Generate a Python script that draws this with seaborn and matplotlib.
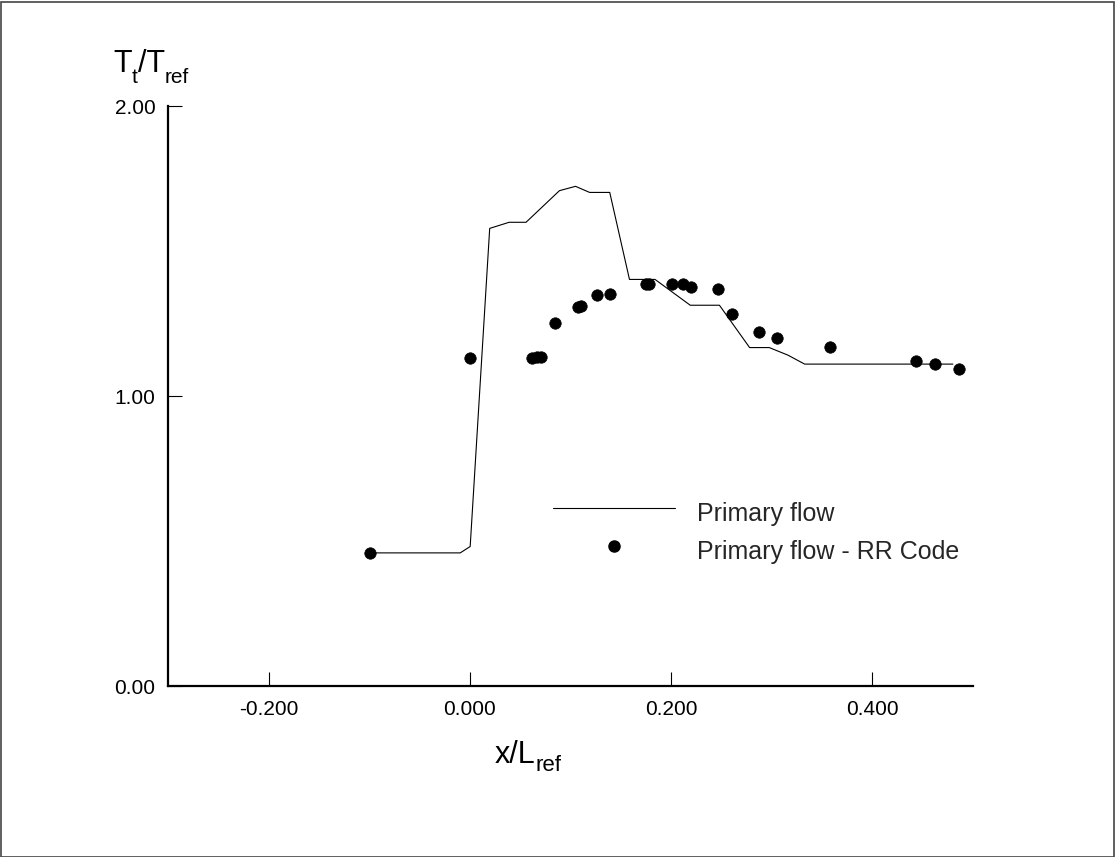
import numpy as np
import pandas as pd
import matplotlib
matplotlib.use("Agg")
import matplotlib.pyplot as plt
import seaborn as sns
from matplotlib.lines import Line2D
from matplotlib.patches import Rectangle

# ---- data ----
line_x = [-0.0995, -0.0096, 0.0003, 0.0197, 0.039, 0.0558, 0.089, 0.105, 0.119, 0.139,
          0.1586, 0.184, 0.219, 0.248, 0.278, 0.2975, 0.316, 0.3327, 0.480]
line_y = [0.459, 0.459, 0.481, 1.578, 1.599, 1.599, 1.708, 1.723, 1.702, 1.702,
          1.402, 1.402, 1.313, 1.313, 1.167, 1.167, 1.141, 1.110, 1.110]

pts_x = [-0.0995, 0.000, 0.062, 0.0665, 0.071, 0.0847, 0.1075, 0.110, 0.1268, 0.1389,
         0.1754, 0.1783, 0.2013, 0.2118, 0.2194, 0.2466, 0.2608, 0.2877, 0.3057,
         0.3583, 0.4437, 0.4621, 0.4857]
pts_y = [0.459, 1.132, 1.132, 1.134, 1.134, 1.251, 1.308, 1.310, 1.348, 1.351,
         1.385, 1.385, 1.385, 1.385, 1.377, 1.368, 1.283, 1.221, 1.199,
         1.168, 1.122, 1.110, 1.092]

x_ticks = [-0.2, 0.0, 0.2, 0.4]
x_ticklabels = ["-0.200", "0.000", "0.200", "0.400"]
y_ticks = [0.0, 1.0, 2.0]
y_ticklabels = ["0.00", "1.00", "2.00"]
series_labels = ["Primary flow", "Primary flow - RR Code"]
xlabel_parts = [("x/L", False), ("ref", True)]
ylabel_parts = [("T", False), ("t", True), ("/T", False), ("ref", True)]

# ---- style ----
sns.set_style("white")
plt.rcParams['font.family'] = ['Liberation Sans', 'DejaVu Sans']

W, H = 1115, 857
fig = plt.figure(figsize=(W / 100, H / 100), dpi=100)
ax = fig.add_axes([168 / W, (H - 686) / H, (973 - 168) / W, (686 - 106) / H])

line_df = pd.DataFrame({"x": line_x, "y": line_y})
pts_df = pd.DataFrame({"x": pts_x, "y": pts_y})

sns.lineplot(data=line_df, x="x", y="y", sort=False, estimator=None,
             color="black", linewidth=0.8, ax=ax)
sns.scatterplot(data=pts_df, x="x", y="y", color="black", edgecolor="black",
                s=68, linewidth=0.5, ax=ax, zorder=3)

ax.set_xlim(-0.3, 0.5)
ax.set_ylim(0.0, 2.0)
ax.set_xticks(x_ticks)
ax.set_xticklabels(x_ticklabels)
ax.set_yticks(y_ticks)
ax.set_yticklabels(y_ticklabels)
ax.tick_params(axis="both", direction="in", length=10, width=0.8,
               labelsize=15, pad=9, color="black", labelcolor="black",
               bottom=True, left=True)
ax.tick_params(axis="x", pad=10)

for s in ["top", "right"]:
    ax.spines[s].set_visible(False)
for s in ["left", "bottom"]:
    ax.spines[s].set_linewidth(1.6)
    ax.spines[s].set_color("black")

ax.set_xlabel("")
ax.set_ylabel("")

renderer = fig.canvas.get_renderer()


def place_label(parts, x_px, base_px, main_size, sub_size, sub_drop):
    x = x_px
    for txt, is_sub in parts:
        size = sub_size if is_sub else main_size
        yb = base_px + (sub_drop if is_sub else 0)
        t = fig.text(x / W, 1 - yb / H, txt, fontsize=size, ha="left",
                     va="baseline", color="black")
        bb = t.get_window_extent(renderer=renderer)
        x += bb.width


place_label(xlabel_parts, 495, 763, 22, 16, 8)
place_label(ylabel_parts, 113, 72, 22, 15, 11)

handles = [Line2D([], [], color="black", lw=0.8),
           Line2D([], [], color="black", marker="o", ls="none", markersize=8)]
leg = ax.legend(handles, series_labels, loc="upper left", frameon=False,
                bbox_to_anchor=(553 / W, 1 - 493.5 / H), bbox_transform=fig.transFigure,
                borderpad=0, borderaxespad=0, fontsize=18, handlelength=4.88,
                handleheight=2.1, handletextpad=0.88, labelspacing=-0.09)

fig.patches.append(Rectangle((0.5 / W, 0.5 / H), 1 - 2 / W, 1 - 2 / H,
                             transform=fig.transFigure, fill=False,
                             edgecolor="#444444", linewidth=1.2))

fig.savefig("out.png", dpi=100)
